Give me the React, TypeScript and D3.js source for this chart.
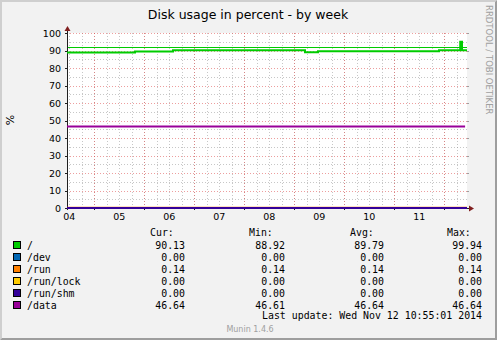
import React from "react";
import * as d3 from "d3";

const W = 497;
const H = 340;

const title = "Disk usage in percent - by week";
const startTime = Date.UTC(2014, 10, 4, 10, 55, 1);
const endTime = Date.UTC(2014, 10, 12, 10, 55, 1);

const seriesNames = ["/", "/dev", "/run", "/run/lock", "/run/shm", "/data"];
const seriesColors = ["#00CC00", "#0066B3", "#FF8000", "#FFCC00", "#330099", "#990099"];
const curValues = ["90.13", "0.00", "0.14", "0.00", "0.00", "46.64"];
const minValues = ["88.92", "0.00", "0.14", "0.00", "0.00", "46.61"];
const avgValues = ["89.79", "0.00", "0.14", "0.00", "0.00", "46.64"];
const maxValues = ["99.94", "0.00", "0.14", "0.00", "0.00", "46.64"];

// step points for "/" : [time, value]
const rootSteps: [number, number][] = [
  [Date.UTC(2014, 10, 4, 10, 55), 88.92],
  [Date.UTC(2014, 10, 5, 19, 34), 89.5],
  [Date.UTC(2014, 10, 6, 13, 48), 90.15],
  [Date.UTC(2014, 10, 9, 5, 9), 88.95],
  [Date.UTC(2014, 10, 9, 11, 24), 89.6],
  [Date.UTC(2014, 10, 11, 21, 29), 90.1],
  [Date.UTC(2014, 10, 12, 7, 40), 95.0],
  [Date.UTC(2014, 10, 12, 8, 31), 90.13],
  [Date.UTC(2014, 10, 12, 10, 55), 90.13],
];
const dataSteps: [number, number][] = [
  [Date.UTC(2014, 10, 4, 10, 55), 46.64],
  [Date.UTC(2014, 10, 12, 10, 0), 46.64],
];
const zeroSteps = (v: number): [number, number][] => [
  [startTime, v],
  [endTime, v],
];
const flatValues = [0, 0.14, 0, 0];
const warningLevel = 92;

const yTicks = [0, 10, 20, 30, 40, 50, 60, 70, 80, 90, 100];

const X0 = 67, X1 = 467, Y0 = 208, Y1 = 33;

export default function App() {
  const x = d3.scaleUtc().domain([startTime, endTime]).range([X0, X1]);
  const y = d3.scaleLinear().domain([0, 100]).range([Y0, Y1]);

  const minorX = d3.utcHour.every(6)!.range(new Date(startTime), new Date(endTime));
  const majorX = d3.utcDay.range(new Date(startTime), new Date(endTime));
  const labelX = d3.utcHour.range(new Date(startTime), new Date(endTime)).filter((d) => d.getUTCHours() === 12);
  const minorY = d3.range(5, 100, 10);

  const line = d3
    .line<[number, number]>()
    .x((d) => x(d[0]))
    .y((d) => y(d[1]))
    .curve(d3.curveStepAfter);

  const allSeries: [number, number][][] = [
    rootSteps,
    ...flatValues.map((v) => zeroSteps(v)),
    dataSteps,
  ];

  const gridGrey = "rgba(143,143,143,0.5)";
  const gridRed = "rgba(222,79,79,0.55)";
  const mono = "'DejaVu Sans Mono', monospace";
  const sans = "'DejaVu Sans', sans-serif";

  const rowY = (i: number) => 249 + i * 12;

  return (
    <svg width={W} height={H} style={{ position: "absolute", left: 0, top: 0 }} xmlns="http://www.w3.org/2000/svg">
      <rect x={0} y={0} width={W} height={H} fill="#F2F2F2" />
      <polygon points={`0,0 ${W},0 ${W - 2},2 2,2 2,${H - 2} 0,${H}`} fill="#CFCFCF" />
      <polygon points={`0,${H} ${W},${H} ${W},0 ${W - 2},2 ${W - 2},${H - 2} 2,${H - 2}`} fill="#9E9E9E" />
      <rect x={X0} y={Y1} width={X1 - X0} height={Y0 - Y1} fill="#FFFFFF" />

      {/* minor grid */}
      {minorX.map((d, i) => (
        <line key={"mx" + i} x1={Math.round(x(d)) + 0.5} x2={Math.round(x(d)) + 0.5} y1={Y1} y2={Y0} stroke={gridGrey} strokeDasharray="1,2" />
      ))}
      {minorY.map((v, i) => (
        <line key={"my" + i} x1={X0} x2={X1} y1={Math.round(y(v)) + 0.5} y2={Math.round(y(v)) + 0.5} stroke={gridGrey} strokeDasharray="1,2" />
      ))}
      {/* major grid */}
      {majorX.map((d, i) => (
        <line key={"Mx" + i} x1={Math.round(x(d)) + 0.5} x2={Math.round(x(d)) + 0.5} y1={Y1} y2={Y0} stroke={gridRed} strokeDasharray="1,2" />
      ))}
      {yTicks.map((v, i) => (
        <line key={"My" + i} x1={X0} x2={X1} y1={Math.round(y(v)) + 0.5} y2={Math.round(y(v)) + 0.5} stroke={gridRed} strokeDasharray="1,2" />
      ))}
      {/* ticks */}
      {yTicks.map((v, i) => (
        <g key={"yt" + i}>
          <line x1={X0 - 2} x2={X0} y1={Math.round(y(v)) + 0.5} y2={Math.round(y(v)) + 0.5} stroke="#1F1F1F" />
          <line x1={X1} x2={X1 + 2} y1={Math.round(y(v)) + 0.5} y2={Math.round(y(v)) + 0.5} stroke="#9E9E9E" />
        </g>
      ))}
      {majorX.map((d, i) => (
        <line key={"xt" + i} x1={Math.round(x(d)) + 0.5} x2={Math.round(x(d)) + 0.5} y1={Y0} y2={Y0 + 2} stroke="#1F1F1F" />
      ))}

      {/* warning line */}
      <line x1={X0} x2={X1} y1={Math.round(y(warningLevel)) + 0.5} y2={Math.round(y(warningLevel)) + 0.5} stroke="#00CC00" strokeWidth={1} />

      {/* axes */}
      <line x1={X0 + 0.5} x2={X0 + 0.5} y1={Y0 + 2} y2={Y1 - 3} stroke="#1F1F1F" />
      <line x1={X0 - 2} x2={X1 + 3} y1={Y0 + 0.5} y2={Y0 + 0.5} stroke="#1F1F1F" />
      <polygon points={`${X0 - 2.5},${Y1 - 2} ${X0 + 3.5},${Y1 - 2} ${X0 + 0.5},${Y1 - 7}`} fill="#801F1F" />
      <polygon points={`${X1 + 2},${Y0 - 2.5} ${X1 + 2},${Y0 + 3.5} ${X1 + 7},${Y0 + 0.5}`} fill="#801F1F" />

      {/* series */}
      {allSeries.map((s, i) => (
        <path key={"s" + i} d={line(s) || ""} fill="none" stroke={seriesColors[i]} strokeWidth={2} />
      ))}

      {/* axis labels */}
      {yTicks.map((v, i) => (
        <text key={"yl" + i} x={61} y={y(v) + 3.5} textAnchor="end" fontFamily={sans} fontSize={9.5} fill="#000">
          {v}
        </text>
      ))}
      {labelX.map((d, i) => (
        <text key={"xl" + i} x={x(d)} y={220} textAnchor="middle" fontFamily={sans} fontSize={9.5} fill="#000">
          {d3.utcFormat("%d")(d)}
        </text>
      ))}

      <text x={248} y={19} textAnchor="middle" fontFamily={sans} fontSize={12.5} fill="#000">
        {title}
      </text>
      <text transform="translate(14,120) rotate(-90)" textAnchor="middle" fontFamily={sans} fontSize={11} fill="#000">
        %
      </text>
      <text transform="translate(486,5) rotate(90)" textAnchor="start" fontFamily={sans} fontSize={8.5} fill="#A0A0A0">
        RRDTOOL / TOBI OETIKER
      </text>

      {/* legend */}
      <text x={150} y={236} fontFamily={mono} fontSize={9.9} fill="#000">Cur:</text>
      <text x={249} y={236} fontFamily={mono} fontSize={9.9} fill="#000">Min:</text>
      <text x={350} y={236} fontFamily={mono} fontSize={9.9} fill="#000">Avg:</text>
      <text x={447} y={236} fontFamily={mono} fontSize={9.9} fill="#000">Max:</text>
      {seriesNames.map((n, i) => (
        <g key={"lg" + i}>
          <rect x={13.5} y={rowY(i) - 7.5} width={7} height={7} fill={seriesColors[i]} stroke="#000" strokeWidth={1} />
          <text x={27} y={rowY(i)} fontFamily={mono} fontSize={9.9} fill="#000">{n}</text>
          <text x={185} y={rowY(i)} textAnchor="end" fontFamily={mono} fontSize={9.9} fill="#000">{curValues[i]}</text>
          <text x={285} y={rowY(i)} textAnchor="end" fontFamily={mono} fontSize={9.9} fill="#000">{minValues[i]}</text>
          <text x={384} y={rowY(i)} textAnchor="end" fontFamily={mono} fontSize={9.9} fill="#000">{avgValues[i]}</text>
          <text x={482} y={rowY(i)} textAnchor="end" fontFamily={mono} fontSize={9.9} fill="#000">{maxValues[i]}</text>
        </g>
      ))}
      <text x={482} y={319} textAnchor="end" fontFamily={mono} fontSize={9.9} fill="#000">
        Last update: Wed Nov 12 10:55:01 2014
      </text>
      <text x={250} y={332} textAnchor="middle" fontFamily={sans} fontSize={8} fill="#A0A0A0">
        Munin 1.4.6
      </text>
    </svg>
  );
}
